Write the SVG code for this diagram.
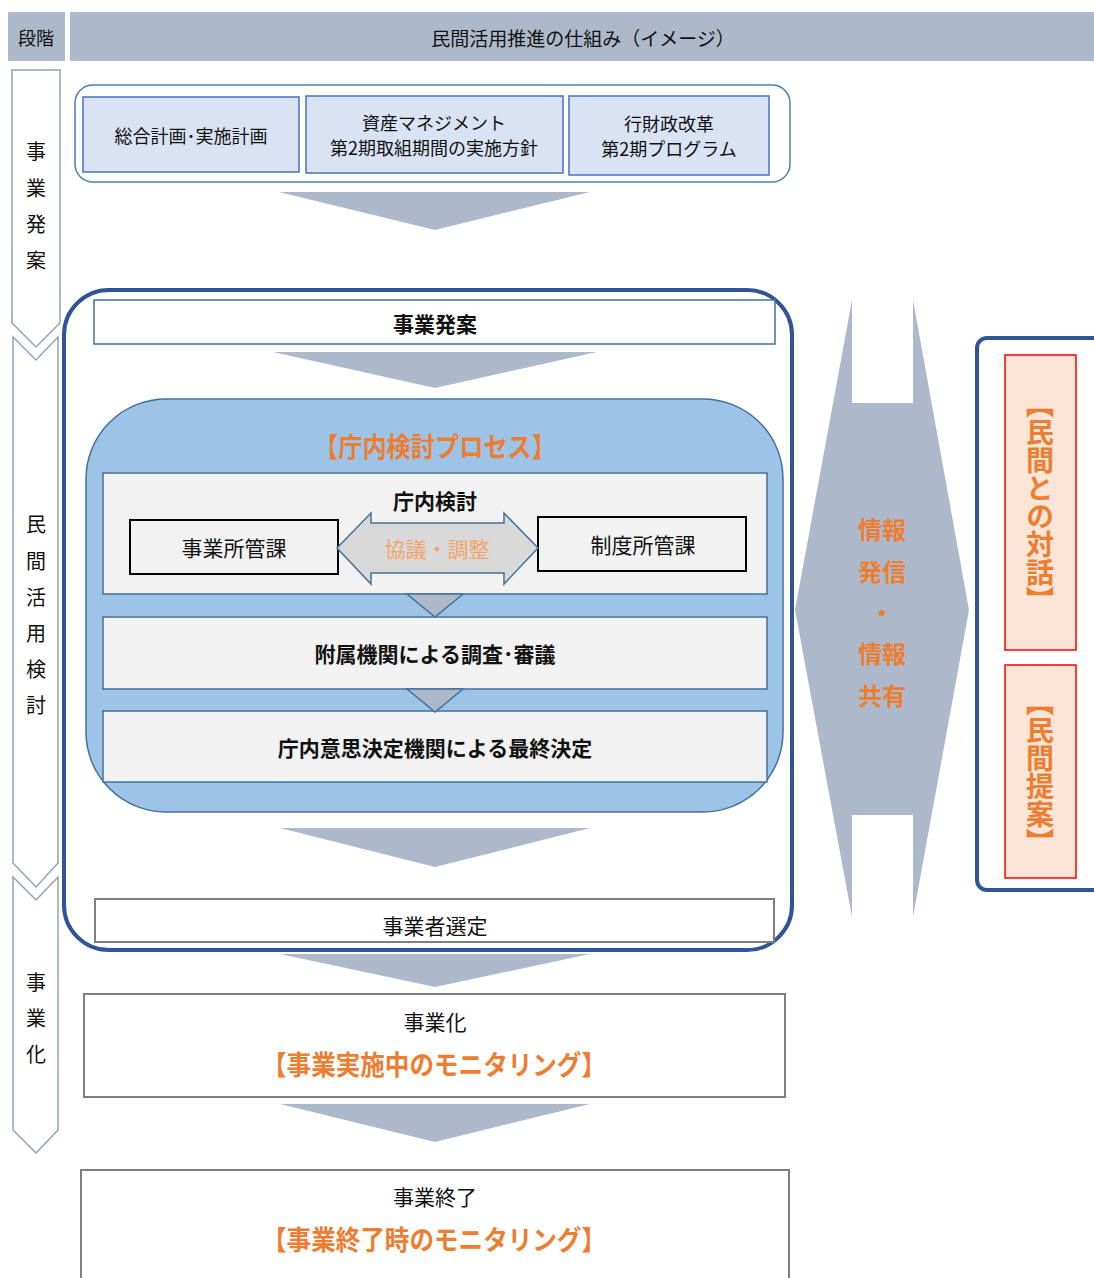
<svg xmlns="http://www.w3.org/2000/svg" width="1094" height="1278" viewBox="0 0 1094 1278">
<defs>
<style>
text{font-family:"Noto Sans CJK JP","Noto Sans",sans-serif;fill:#111;}
.c{text-anchor:middle;dominant-baseline:central;}
.hdr{fill:#adb9ca;}
.bigarrow{fill:#adb9ca;}
.chev{fill:#fff;stroke:#8ea2bf;stroke-width:1.5;}
.plan{fill:#dae3f3;stroke:#4472c4;stroke-width:1.5;}
.inner{fill:#f2f2f2;stroke:#41719c;stroke-width:1.5;}
.dept{fill:#f2f2f2;stroke:#000;stroke-width:2;}
.gray{fill:#fff;stroke:#7f7f7f;stroke-width:2;}
.or{fill:#ed7d31;font-weight:bold;}
.b{font-weight:bold;}
.tri{fill:#adb9ca;stroke:#41719c;stroke-width:1.5;}
.pk{fill:#fbe5d6;stroke:#ff0000;stroke-width:1.5;}
</style>
</defs>

<g id="header">
<rect class="hdr" x="8" y="12" width="57" height="49"/>
<rect class="hdr" x="70" y="12" width="1024" height="49"/>
<text class="c" x="36" y="37" font-size="18">段階</text>
<text class="c" x="583" y="37" font-size="19">民間活用推進の仕組み（イメージ）</text>
</g>

<g id="stage-1">
<path class="chev" d="M12,70 L60,70 L60,323 L36,347 L12,323 Z"/>
<text class="c" x="36" y="150" font-size="20">事</text>
<text class="c" x="36" y="187" font-size="20">業</text>
<text class="c" x="36" y="223" font-size="20">発</text>
<text class="c" x="36" y="259" font-size="20">案</text>
</g>
<g id="stage-2">
<path class="chev" d="M13,337 L36,360 L58,337 L58,863 L36,887 L13,863 Z"/>
<text class="c" x="36" y="523" font-size="20">民</text>
<text class="c" x="36" y="560" font-size="20">間</text>
<text class="c" x="36" y="596" font-size="20">活</text>
<text class="c" x="36" y="632" font-size="20">用</text>
<text class="c" x="36" y="668" font-size="20">検</text>
<text class="c" x="36" y="704" font-size="20">討</text>
</g>
<g id="stage-3">
<path class="chev" d="M13,877 L36,900 L58,877 L58,1130 L36,1153 L13,1130 Z"/>
<text class="c" x="36" y="981" font-size="20">事</text>
<text class="c" x="36" y="1017" font-size="20">業</text>
<text class="c" x="36" y="1053" font-size="20">化</text>
</g>

<g id="plans">
<rect x="75" y="85" width="715" height="97" rx="18" fill="#fff" stroke="#4a7ebb" stroke-width="1.5"/>
<rect class="plan" x="83" y="97" width="216" height="75"/>
<text class="c" x="191" y="135" font-size="18">総合計画･実施計画</text>
<rect class="plan" x="306" y="96" width="257" height="77"/>
<text class="c" x="434" y="122" font-size="18">資産マネジメント</text>
<text class="c" x="434" y="147" font-size="18">第2期取組期間の実施方針</text>
<rect class="plan" x="569" y="96" width="200" height="79"/>
<text class="c" x="669" y="123" font-size="18">行財政改革</text>
<text class="c" x="669" y="148" font-size="18">第2期プログラム</text>
</g>

<g id="study-container">
<rect x="64" y="290" width="728" height="660" rx="45" fill="#fff" stroke="#2f5597" stroke-width="4"/>
</g>

<g id="proposal">
<rect x="94" y="300" width="681" height="44" fill="#fff" stroke="#41719c" stroke-width="1.5"/>
<text class="c b" x="435" y="323" font-size="21">事業発案</text>
</g>

<g id="process">
<rect x="86" y="399" width="697" height="413" rx="80" fill="#9dc3e6" stroke="#41719c" stroke-width="1.5"/>
<text class="c or" x="435" y="445" font-size="27" textLength="242" lengthAdjust="spacingAndGlyphs">【庁内検討プロセス】</text>
</g>

<g id="internal-review">
<rect class="inner" x="103" y="473" width="664" height="121"/>
<text class="c b" x="435" y="500" font-size="21">庁内検討</text>
</g>
<g id="dept-business">
<rect class="dept" x="130" y="520" width="208" height="54"/>
<text class="c" x="234" y="547" font-size="21">事業所管課</text>
</g>
<g id="dept-system">
<rect class="dept" x="538" y="517" width="208" height="54"/>
<text class="c" x="643" y="544" font-size="21">制度所管課</text>
</g>
<g id="consult">
<polygon points="337,548 371,513 371,523 504,523 504,513 538,548 504,584 504,573 371,573 371,584" fill="#d9d9d9" stroke="#41719c" stroke-width="1.5"/>
<text class="c" x="437" y="548" font-size="21" style="fill:#f4a46a">協議・調整</text>
</g>
<g id="council">
<rect class="inner" x="103" y="617" width="664" height="72"/>
<text class="c b" x="435" y="653" font-size="21">附属機関による調査･審議</text>
</g>
<g id="final-decision">
<rect class="inner" x="103" y="711" width="664" height="71"/>
<text class="c b" x="435" y="747" font-size="21">庁内意思決定機関による最終決定</text>
</g>

<g id="selection">
<rect class="gray" x="95" y="899" width="679" height="43"/>
<text class="c" x="435" y="925" font-size="21">事業者選定</text>
</g>

<g id="implementation">
<rect class="gray" x="84" y="994" width="701" height="103"/>
<text class="c" x="435" y="1021" font-size="21">事業化</text>
<text class="c or" x="434" y="1063" font-size="27" textLength="344" lengthAdjust="spacingAndGlyphs">【事業実施中のモニタリング】</text>
</g>

<g id="completion">
<rect class="gray" x="81" y="1170" width="708" height="120"/>
<text class="c" x="435" y="1196" font-size="21">事業終了</text>
<text class="c or" x="434" y="1238" font-size="27" textLength="344" lengthAdjust="spacingAndGlyphs">【事業終了時のモニタリング】</text>
</g>

<g id="info-sharing">
<polygon class="bigarrow" points="795,610 852,300 852,403 913,403 913,300 969,610 913,917 913,815 852,815 852,917"/>
<text class="c or" x="882" y="528" font-size="24">情報</text>
<text class="c or" x="882" y="570" font-size="24">発信</text>
<text class="c or" x="882" y="611" font-size="24">・</text>
<text class="c or" x="882" y="652" font-size="24">情報</text>
<text class="c or" x="882" y="694" font-size="24">共有</text>
</g>

<g id="private-sector">
<rect x="977" y="338" width="140" height="552" rx="10" fill="#fff" stroke="#2f5597" stroke-width="4"/>
</g>
<g id="dialogue">
<rect class="pk" x="1005" y="355" width="71" height="295"/>
<text class="or" x="1040" y="502" font-size="28" text-anchor="middle" style="writing-mode:vertical-rl">【民間との対話】</text>
</g>
<g id="private-proposal">
<rect class="pk" x="1005" y="665" width="71" height="213"/>
<text class="or" x="1040" y="772" font-size="28" text-anchor="middle" style="writing-mode:vertical-rl">【民間提案】</text>
</g>

<g id="connectors">
<polygon class="bigarrow" points="279,192 590,192 435,230"/>
<polygon class="bigarrow" points="273,352 597,352 435,388"/>
<polygon class="bigarrow" points="280,828 590,828 435,867"/>
<polygon class="bigarrow" points="280,954 590,954 435,987"/>
<polygon class="bigarrow" points="280,1104 590,1104 435,1142"/>
<polygon class="tri" points="407,594 463,594 435,617"/>
<polygon class="tri" points="407,689 463,689 435,712"/>
</g>
</svg>
